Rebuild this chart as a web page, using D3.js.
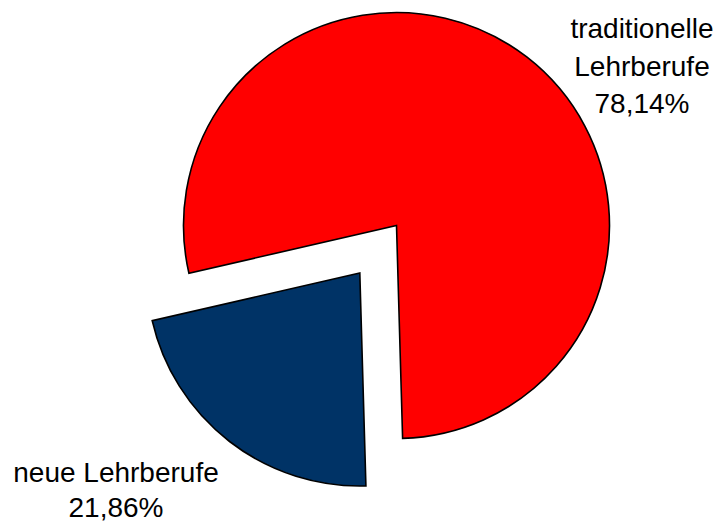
<!DOCTYPE html>
<html>
<head>
<meta charset="utf-8">
<script src="https://cdn.jsdelivr.net/npm/d3@7"></script>
<style>
html,body{margin:0;padding:0;background:#fff;}
svg{display:block;}
text{font-family:"Liberation Sans",Arial,sans-serif;font-size:28px;fill:#000;}
</style>
</head>
<body>
<script>
const categories = ["traditionelle Lehrberufe", "neue Lehrberufe"];
const values = [78.14, 21.86];
const labelLines = [["traditionelle", "Lehrberufe", "78,14%"], ["neue Lehrberufe", "21,86%"]];
const colors = ["#FF0000", "#003366"];
const exploded = [0, 60];

const W = 726, H = 525;
const cx = 396.5, cy = 225.5, R = 213;

const svg = d3.select("body").append("svg").attr("width", W).attr("height", H);

const start = -102.95 * Math.PI / 180;
const pie = d3.pie().sort(null).value(d => d).startAngle(start).endAngle(start + 2 * Math.PI);
const arcs = pie(values);
const arc = d3.arc().innerRadius(0).outerRadius(R);

const g = svg.append("g").attr("transform", `translate(${cx},${cy})`);
g.selectAll("path").data(arcs).join("path")
  .attr("d", arc)
  .attr("fill", (d, i) => colors[i])
  .attr("stroke", "#000")
  .attr("stroke-width", 1.6)
  .attr("stroke-linejoin", "miter")
  .attr("transform", (d, i) => {
    const a = (d.startAngle + d.endAngle) / 2;
    return `translate(${Math.sin(a) * exploded[i]},${-Math.cos(a) * exploded[i]})`;
  });

const labelPos = [{x: 642, y: 38, dy: 37.5}, {x: 116, y: 482, dy: 35}];
labelLines.forEach((lines, i) => {
  const t = svg.append("text").attr("text-anchor", "middle");
  lines.forEach((ln, j) => {
    t.append("tspan").attr("x", labelPos[i].x).attr("y", labelPos[i].y + j * labelPos[i].dy).text(ln);
  });
});
</script>
</body>
</html>
